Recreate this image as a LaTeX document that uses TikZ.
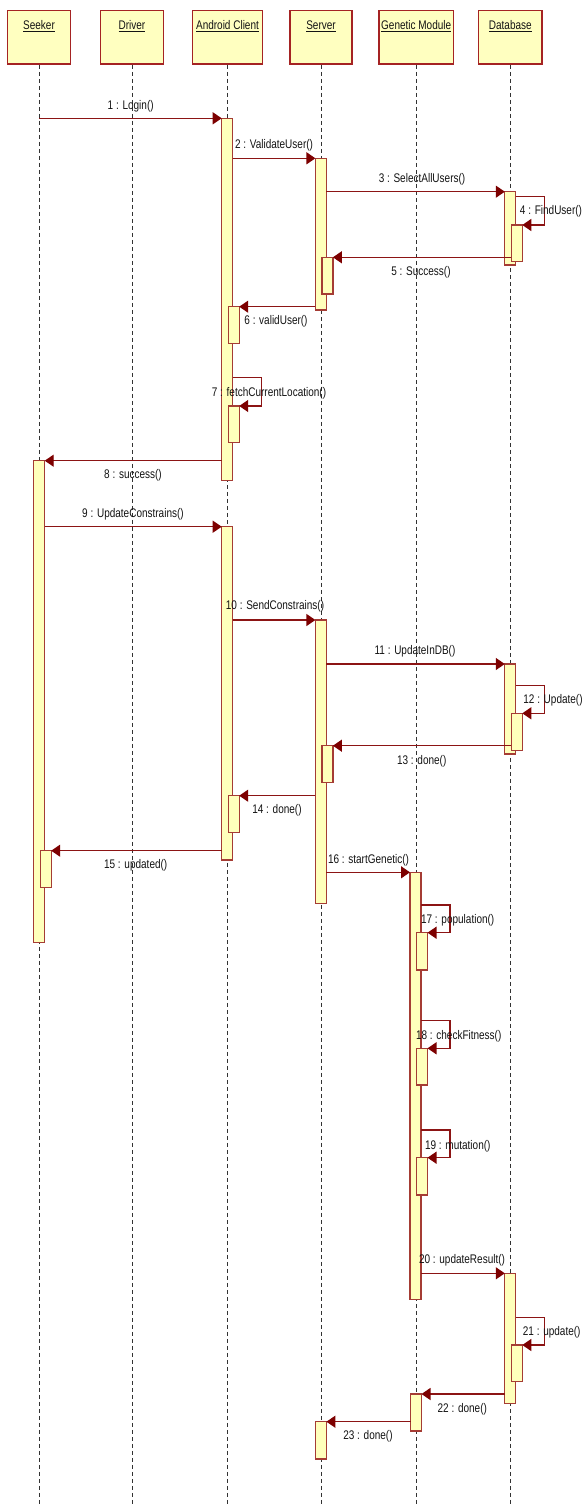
\documentclass[tikz,border=0pt]{standalone}
\usepackage{fontspec}
\setmainfont{Liberation Sans}[FakeStretch=0.8]
\usetikzlibrary{arrows.meta}
\definecolor{boxfill}{RGB}{255,255,192}
\definecolor{boxline}{RGB}{165,35,35}
\definecolor{barfill}{RGB}{255,255,187}
\definecolor{barline}{RGB}{165,60,52}
\definecolor{msgline}{RGB}{140,20,20}
\definecolor{tipcol}{RGB}{125,0,0}
\definecolor{lifecol}{RGB}{50,50,50}
\definecolor{txtcol}{RGB}{20,20,20}
\def\LK{39.2}
\def\LD{132}
\def\LA{227.2}
\def\LS{320.9}
\def\LG{415.5}
\def\LB{510.3}
\newcommand{\actbar}[4]{\node[barbox, minimum height={#4-#3}, anchor=north] (#1) at (#2,#3) {};}
\begin{document}
\begin{tikzpicture}[x=1pt,y=-1pt,
  every node/.style={font=\fontsize{12.5pt}{14pt}\selectfont, text=txtcol},
  head/.style={draw=boxline, fill=boxfill, line width=1.5pt, anchor=north,
    minimum height=53.3pt, inner xsep=0pt, inner ysep=10pt, text height=9pt, text depth=24.3pt},
  barbox/.style={draw=barline, fill=barfill, line width=1.2pt, minimum width=11pt, inner sep=0pt, outer sep=0pt},
  lifeline/.style={draw=lifecol, line width=0.8pt, dash pattern=on 4pt off 3pt},
  msg/.style={draw=msgline, line width=1.3pt, -{Triangle[length=9pt,width=12pt,color=tipcol]}},
  lbl/.style={inner sep=0pt}
]
\useasboundingbox (0,0) rectangle (584,1506);
\fill[white] (0,0) rectangle (584,1506);

% header boxes
\node[head, minimum width=63.4pt] (seeker) at (39,10) {\underline{Seeker}};
\node[head, minimum width=62.6pt] (driver) at (132,10) {\underline{Driver}};
\node[head, minimum width=69.6pt] (android) at (227.5,10) {\underline{Android Client}};
\node[head, minimum width=62pt] (server) at (321,10) {\underline{Server}};
\node[head, minimum width=74.8pt] (genetic) at (416.2,10) {\underline{Genetic Module}};
\node[head, minimum width=63.4pt] (database) at (510.3,10) {\underline{Database}};

% lifelines
\foreach \n in {seeker,driver,android,server,genetic,database}
  \draw[lifeline] (\n.south) -- (\n.south |- 0,1506);

% activation bars
\actbar{A1}{\LA}{118.3}{480.7}
\actbar{S1}{\LS}{158.3}{310}
\actbar{B1}{\LB}{191.7}{265}
\actbar{B1n}{\LB+6.5}{225}{261.7}
\actbar{S1n}{\LS+6.5}{257.3}{294}
\actbar{A1n}{\LA+6.5}{306.7}{343.5}
\actbar{A1f}{\LA+6.5}{406}{442.7}
\actbar{K1}{\LK}{460.7}{942.7}
\actbar{A2}{\LA}{526.7}{860}
\actbar{S2}{\LS}{620}{903.3}
\actbar{B2}{\LB}{664}{754}
\actbar{B2n}{\LB+6.5}{713.3}{750.3}
\actbar{S2n}{\LS+6.5}{745.7}{782.7}
\actbar{A2n}{\LA+6.5}{795.7}{832.7}
\actbar{K1n}{\LK+6.5}{850.7}{887.3}
\actbar{G1}{\LG}{872.3}{1299.3}
\actbar{G1a}{\LG+6.5}{932.7}{970}
\actbar{G1b}{\LG+6.5}{1048.3}{1085}
\actbar{G1c}{\LG+6.5}{1157.7}{1195}
\actbar{B3}{\LB}{1273.3}{1403.3}
\actbar{B3n}{\LB+6.5}{1345}{1381.7}
\actbar{G2}{\LG+0.5}{1394}{1431}
\actbar{S3}{\LS}{1421.7}{1459}

% messages
\draw[msg] (seeker.south |- A1.north) -- (A1.north west);
\draw[msg] (A1.east |- S1.north) -- (S1.north west);
\draw[msg] (S1.east |- B1.north) -- (B1.north west);
\draw[msg] (B1.east |- 0,196.7) -- ++(28.8,0) |- (B1n.north east);
\draw[msg] (B1n.west |- S1n.north) -- (S1n.north east);
\draw[msg] (S1.west |- A1n.north) -- (A1n.north east);
\draw[msg] (A1.east |- 0,377.7) -- ++(29,0) |- (A1f.north east);
\draw[msg] (A1.west |- K1.north) -- (K1.north east);
\draw[msg] (K1.east |- A2.north) -- (A2.north west);
\draw[msg] (A2.east |- S2.north) -- (S2.north west);
\draw[msg] (S2.east |- B2.north) -- (B2.north west);
\draw[msg] (B2.east |- 0,685.7) -- ++(28.8,0) |- (B2n.north east);
\draw[msg] (B2n.west |- S2n.north) -- (S2n.north east);
\draw[msg] (S2.west |- A2n.north) -- (A2n.north east);
\draw[msg] (A2.west |- K1n.north) -- (K1n.north east);
\draw[msg] (S2.east |- G1.north) -- (G1.north west);
\draw[msg] (G1.east |- 0,905) -- ++(29,0) |- (G1a.north east);
\draw[msg] (G1.east |- 0,1020.7) -- ++(29,0) |- (G1b.north east);
\draw[msg] (G1.east |- 0,1130) -- ++(29,0) |- (G1c.north east);
\draw[msg] (G1.east |- B3.north) -- (B3.north west);
\draw[msg] (B3.east |- 0,1317.3) -- ++(28.8,0) |- (B3n.north east);
\draw[msg] (B3.west |- G2.north) -- (G2.north east);
\draw[msg] (G2.west |- S3.north) -- (S3.north east);

% labels
\node[lbl] (m1) at (130.7,106) {1 : Login()};
\node[lbl] (m2) at (274,145) {2 : ValidateUser()};
\node[lbl] (m3) at (422,179.3) {3 : SelectAllUsers()};
\node[lbl] (m4) at (551,211.7) {4 : FindUser()};
\node[lbl] (m5) at (421,272.7) {5 : Success()};
\node[lbl] (m6) at (276,321.7) {6 : validUser()};
\node[lbl] (m7) at (269,393.3) {7 : fetchCurrentLocation()};
\node[lbl] (m8) at (133,475) {8 : success()};
\node[lbl] (m9) at (133,514) {9 : UpdateConstrains()};
\node[lbl] (m10) at (275,606.7) {10 : SendConstrains()};
\node[lbl] (m11) at (415,651.7) {11 : UpdateInDB()};
\node[lbl] (m12) at (553,700) {12 : Update()};
\node[lbl] (m13) at (421.7,761.7) {13 : done()};
\node[lbl] (m14) at (277,810) {14 : done()};
\node[lbl] (m15) at (135.7,865) {15 : updated()};
\node[lbl] (m16) at (368.5,860) {16 : startGenetic()};
\node[lbl] (m17) at (457.7,920.7) {17 : population()};
\node[lbl] (m18) at (458.7,1036) {18 : checkFitness()};
\node[lbl] (m19) at (457.8,1146) {19 : mutation()};
\node[lbl] (m20) at (462,1260.7) {20 : updateResult()};
\node[lbl] (m21) at (551.7,1332.3) {21 : update()};
\node[lbl] (m22) at (462.3,1409.3) {22 : done()};
\node[lbl] (m23) at (368,1436.7) {23 : done()};
\end{tikzpicture}
\end{document}
